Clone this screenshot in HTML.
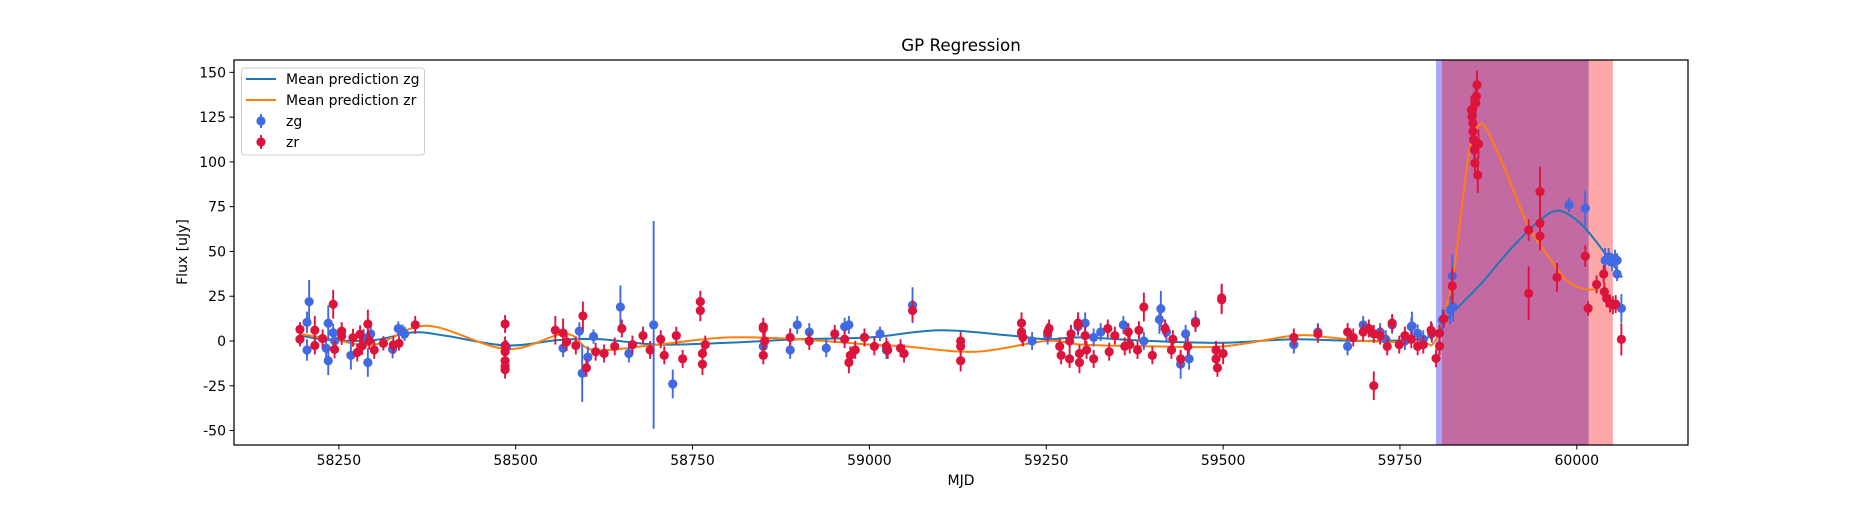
<!DOCTYPE html>
<html><head><meta charset="utf-8"><style>
body{margin:0;background:#fff}
svg text{font-family:"DejaVu Sans","Liberation Sans",sans-serif;fill:#000}
</style></head><body>
<svg id="chart" width="1875" height="500" viewBox="0 0 1875 500" xmlns="http://www.w3.org/2000/svg">
<rect width="1875" height="500" fill="#fff"/>
<g id="spans"></g><g id="curves"></g><g id="points"></g><g id="axes"></g>
</svg>
<script>
const xTicks=[58250,58500,58750,59000,59250,59500,59750,60000];
const yTicks=[-50,-25,0,25,50,75,100,125,150];
const spanG=[59801,60017];
const spanR=[59809,60051];
// [mjd, flux, err]
const zgPts=[[58205,10.4,6],[58208,22,12],[58205,-5,6],[58232,-4,6],[58235,9.9,10],[58235,-11,8],[58242,4.6,5],[58244,0,5],[58267,-8,8],[58285,1.8,5],[58291,-12,8],[58295,4,5],[58326,-4.7,5],[58334,6.9,4],[58340,5.2,4],[58343,4,4],[58487,-3.5,4],[58567,-4,5],[58590,5.5,5],[58594,-18,16],[58602,-9,6],[58610,2.5,4],[58648,19,12],[58660,-7,5],[58695,9,58],[58722,-24,8],[58850,-3,5],[58888,-5,5],[58898,9,5],[58915,5,5],[58939,-4,5],[58965,8,5],[58971,9,5],[58993,2,5],[59015,4,4],[59024,-5,5],[59061,20,10],[59215,4,5],[59230,0,5],[59252,3,5],[59295,8,5],[59305,10,6],[59317,2,5],[59327,5,5],[59359,9,5],[59388,0,5],[59410,12,8],[59412,18,10],[59420,5,5],[59440,-13,8],[59447,4,5],[59452,-10,6],[59461,11,6],[59600,-2,5],[59634,5,5],[59676,-3,5],[59698,9,5],[59722,5,5],[59730,1,5],[59739,9,5],[59757,0,5],[59766,8,5],[59767,8.4,8],[59775,4.3,5],[59783,1,5],[59795,4,5],[59810,11.7,6],[59821,17.3,8],[59824,36.3,12],[59825,19,8],[59989,76,4],[60012,74.1,10],[60040,45,7],[60045,47,5],[60050,44,5],[60054,46,5],[60057,45,4],[60057,37.4,4],[60063,18.2,8]];
const zrPts=[[58195,6.5,4],[58195,1,4],[58216,6,8],[58216,-2.5,5],[58227,1.4,5],[58242,20.5,8],[58244,-4.7,5],[58254,5.5,5],[58254,2.8,5],[58270,1.8,5],[58276,-6.4,5],[58280,3.8,5],[58283,-2.7,5],[58291,9.5,8],[58293,0.3,5],[58300,-5,5],[58313,-1.3,4],[58327,-2.2,5],[58335,-1.3,4],[58358,9,5],[58485,9.5,5],[58485,-2.5,5],[58485,-6,5],[58485,-11,5],[58485,-14,5],[58485,-16,5],[58556,6,8],[58567,4.5,8],[58572,-0.5,5],[58585,-2.5,5],[58595,14,8],[58600,-15,5],[58613,-6,5],[58625,-7,5],[58640,-3,5],[58650,7,5],[58665,-2,5],[58680,3,5],[58690,-5,5],[58705,1,5],[58710,-8,5],[58727,3,5],[58736,-10,5],[58761,22,6],[58761,17,6],[58764,-13,6],[58764,-7,5],[58768,-2,5],[58850,8,5],[58850,7,5],[58850,-8,5],[58852,0,5],[58888,2,5],[58915,0,5],[58951,4,5],[58965,1,5],[58971,-12,6],[58973,-8,5],[58980,-5,5],[58993,2,5],[59007,-3,5],[59024,-3,5],[59026,-5,5],[59044,-4,5],[59049,-7,5],[59061,17,6],[59129,0,5],[59129,-3,5],[59129,-11,6],[59215,10,6],[59215,5,5],[59217,2,5],[59252,5,5],[59254,7,5],[59269,-3,5],[59271,-8,5],[59283,-10,5],[59283,0,5],[59285,4,5],[59295,10,6],[59295,9,5],[59297,-7,5],[59297,-12,6],[59305,3,5],[59307,-5,5],[59317,-10,5],[59337,7,5],[59339,-6,5],[59347,3,5],[59361,-3,5],[59366,5,5],[59368,-2,5],[59379,-5,5],[59381,6,5],[59388,19,8],[59400,-8,5],[59418,7,5],[59427,-5,5],[59429,1,5],[59440,-10,5],[59450,-3,5],[59461,10,5],[59490,-5,5],[59490,-10,5],[59492,-15,5],[59498,24,8],[59498,23,8],[59500,-7,6],[59600,2,5],[59634,4,5],[59676,5,5],[59684,2,5],[59698,5,5],[59706,7,5],[59713,-25,8],[59713,4,5],[59722,3,5],[59732,-3,5],[59739,10,5],[59749,-2,5],[59757,3,5],[59766,1,5],[59775,-3,5],[59783,-2,5],[59794,6,5],[59795,5,5],[59801,-9.7,5],[59806,-2.8,5],[59806,4.3,5],[59812,12.4,5],[59824,30.7,10],[59851,129,8],[59852,125.3,8],[59853,121.6,8],[59853,117,8],[59854,112.3,8],[59855,106.8,8],[59856,99.3,8],[59858,136.6,8],[59857,132.8,8],[59859,143,8],[59860,92.7,10],[59861,110,8],[59932,62,6],[59932,26.6,15],[59948,83.4,14],[59948,65.7,14],[59948,58.6,8],[59972,35.5,8],[60012,47.4,6],[60016,18.2,4],[60028,31.6,5],[60038,37.4,5],[60039,27.5,5],[60042,23.8,5],[60047,21,5],[60051,20,5],[60055,20.6,5],[60063,0.9,9]];
// mean prediction curves: [mjd, flux]
const zgCurve=[[58195,3],[58240,0.5],[58300,0.5],[58355,4.8],[58400,3],[58487,-2.5],[58560,0.5],[58620,1],[58700,-2],[58800,-1],[58900,1],[59000,2],[59100,6],[59200,3],[59250,1],[59300,2],[59400,0],[59500,-1],[59600,1],[59700,0],[59790,2],[59815,12],[59840,22],[59867,33],[59905,50.7],[59948,67.5],[59975,72.7],[60005,65.7],[60033,52.6],[60064,35.5]];
const zrCurve=[[58195,4],[58240,1],[58300,-2],[58375,8.5],[58487,-4.5],[58570,4],[58610,-5],[58700,-2],[58800,2],[58900,1],[59000,-2],[59050,-3],[59150,-6],[59250,0],[59300,-2],[59400,-3],[59500,-3],[59600,3],[59650,2],[59700,0],[59780,-1],[59797,-1.5],[59811,13.4],[59826,38],[59848,106],[59864,121],[59878,114],[59901,93.6],[59931,64.7],[59957,48.8],[59985,34],[60013,28.8],[60033,29.5]];

const NS='http://www.w3.org/2000/svg';
const L=234,R=1688,T=60,B=445;
const X=v=>162+(v-58000)*0.7074;
const Y=v=>341-v*1.791;
function mk(tag,attrs,parent){const e=document.createElementNS(NS,tag);for(const k in attrs)e.setAttribute(k,attrs[k]);parent.appendChild(e);return e;}
const spans=document.getElementById('spans'),curves=document.getElementById('curves'),pts=document.getElementById('points'),axes=document.getElementById('axes');

let e=mk('rect',{x:X(spanG[0]),y:T,width:X(spanR[0])-X(spanG[0]),height:B-T,fill:'#a8a8f8'},spans);


e=mk('rect',{x:X(spanR[0]),y:T,width:X(spanG[1])-X(spanR[0]),height:B-T,fill:'#c46aa3'},spans);


e=mk('rect',{x:X(spanG[1]),y:T,width:X(spanR[1])-X(spanG[1]),height:B-T,fill:'#ffa8a8'},spans);



function smooth(p){let d='M'+X(p[0][0])+','+Y(p[0][1]);
 for(let i=0;i<p.length-1;i++){const p0=p[Math.max(0,i-1)],p1=p[i],p2=p[i+1],p3=p[Math.min(p.length-1,i+2)];
  const x0=X(p0[0]),y0=Y(p0[1]),x1=X(p1[0]),y1=Y(p1[1]),x2=X(p2[0]),y2=Y(p2[1]),x3=X(p3[0]),y3=Y(p3[1]);
  d+=' C'+(x1+(x2-x0)/6)+','+(y1+(y2-y0)/6)+' '+(x2-(x3-x1)/6)+','+(y2-(y3-y1)/6)+' '+x2+','+y2;}
 return d;}
e=mk('path',{d:smooth(zgCurve),fill:'none',stroke:'#1f77b4','stroke-width':2},curves);


e=mk('path',{d:smooth(zrCurve),fill:'none',stroke:'#ff7f0e','stroke-width':2},curves);



function drawPts(arr,col,name){arr.forEach(p=>{
 const g=mk('g',{},pts);
 
 
 mk('line',{x1:X(p[0]),x2:X(p[0]),y1:Y(p[1]-p[2]),y2:Y(p[1]+p[2]),stroke:col,'stroke-width':1.9},g);
 mk('circle',{cx:X(p[0]),cy:Y(p[1]),r:4.6,fill:col},g);});}
drawPts(zgPts,'#4169e1','zg-point');
drawPts(zrPts,'#dc143c','zr-point');

e=mk('rect',{x:L,y:T,width:R-L,height:B-T,fill:'none',stroke:'#000','stroke-width':1.25},axes);


xTicks.forEach(v=>{mk('line',{x1:X(v),x2:X(v),y1:B,y2:B+4.5,stroke:'#000','stroke-width':1},axes);
 const t=mk('text',{x:X(v),y:B+20,'text-anchor':'middle','font-size':14},axes);t.textContent=v;
 
 });
yTicks.forEach(v=>{mk('line',{x1:L-4.5,x2:L,y1:Y(v),y2:Y(v),stroke:'#000','stroke-width':1},axes);
 const t=mk('text',{x:L-8,y:Y(v)+5,'text-anchor':'end','font-size':14},axes);t.textContent=v;
 
 });
</script>
<svg width="1875" height="500" style="position:absolute;left:0;top:0" xmlns="http://www.w3.org/2000/svg">
<text x="961" y="51" text-anchor="middle" font-size="16.7">GP Regression</text>
<text x="961" y="485" text-anchor="middle" font-size="14">MJD</text>
<text transform="translate(187,252) rotate(-90)" text-anchor="middle" font-size="14">Flux [uJy]</text>
<g>
<rect x="241.5" y="68" width="183" height="87" rx="3" fill="#fff" fill-opacity="0.8" stroke="#ccc"/>
<g><line x1="246" x2="276" y1="79" y2="79" stroke="#1f77b4" stroke-width="2"/><text x="286" y="84" font-size="14">Mean prediction zg</text></g>
<g><line x1="246" x2="276" y1="100" y2="100" stroke="#ff7f0e" stroke-width="2"/><text x="286" y="105" font-size="14">Mean prediction zr</text></g>
<g><line x1="261" x2="261" y1="114" y2="128" stroke="#4169e1" stroke-width="1.9"/><circle cx="261" cy="121" r="4.6" fill="#4169e1"/><text x="286" y="126" font-size="14">zg</text></g>
<g><line x1="261" x2="261" y1="135" y2="149" stroke="#dc143c" stroke-width="1.9"/><circle cx="261" cy="142" r="4.6" fill="#dc143c"/><text x="286" y="147" font-size="14">zr</text></g>
</g>
</svg>
</body></html>
